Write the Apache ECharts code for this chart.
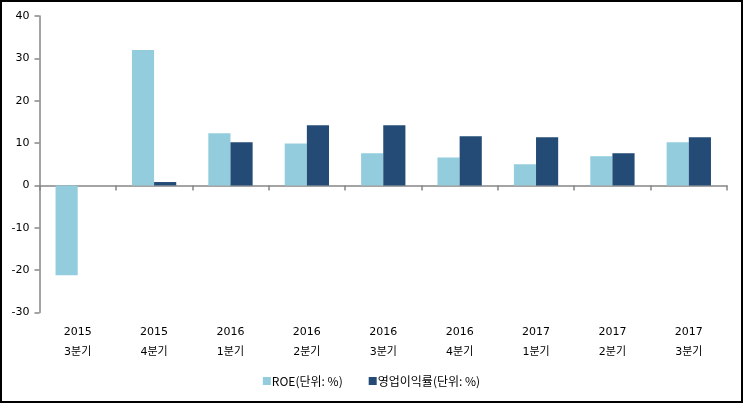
<!DOCTYPE html>
<html>
<head>
<meta charset="utf-8">
<script src="https://cdn.jsdelivr.net/npm/echarts@6/dist/echarts.min.js"></script>
<style>
html,body{margin:0;padding:0;background:#fff;}
#frame{width:743px;height:403px;box-sizing:border-box;border:2px solid #000;position:relative;}
#chart{position:absolute;left:-2px;top:-2px;width:743px;height:403px;}
</style>
</head>
<body>
<div id="frame"><div id="chart"></div></div>
<script>
const years = ['2015','2015','2016','2016','2016','2016','2017','2017','2017'];
const quarters = ['3분기','4분기','1분기','2분기','3분기','4분기','1분기','2분기','3분기'];
const roe = [-21.2, 32.0, 12.3, 9.9, 7.6, 6.6, 5.0, 6.9, 10.2];
const opMargin = [0, 0.8, 10.2, 14.2, 14.2, 11.6, 11.4, 7.6, 11.4];
const seriesNames = ['ROE(단위: %)', '영업이익률(단위: %)'];
const yTicks = {min: -30, max: 40, interval: 10};

const categories = years.map((y, i) => y + '\n' + quarters[i]);
const font = '"DejaVu Sans", "Noto Sans CJK KR", sans-serif';

const chart = echarts.init(document.getElementById('chart'), null, {renderer: 'canvas'});
chart.setOption({
  animation: false,
  textStyle: {fontFamily: font},
  grid: {left: 39.5, right: 16, top: 16, bottom: 90.5, containLabel: false},
  legend: {
    bottom: 11,
    left: 'center',
    itemWidth: 8, itemHeight: 8, itemGap: 26,
    icon: 'rect',
    textStyle: {fontSize: 12, color: '#000', fontFamily: '"Noto Sans CJK KR", sans-serif', padding: [0,0,0,-4]},
    data: seriesNames
  },
  xAxis: [
    {
      type: 'category', data: categories,
      axisLine: {onZero: true, lineStyle: {color: '#868686', width: 1.5}},
      axisTick: {show: true, length: 5, inside: false, lineStyle: {color: '#868686', width: 1.5}},
      axisLabel: {show: false}
    },
    {
      type: 'category', data: categories, position: 'bottom',
      axisLine: {show: false, onZero: false},
      axisTick: {show: false},
      axisLabel: {show: true, fontSize: 11, color: '#000', lineHeight: 20, margin: 10, fontFamily: font}
    }
  ],
  yAxis: {
    type: 'value', min: yTicks.min, max: yTicks.max, interval: yTicks.interval,
    axisLine: {show: true, lineStyle: {color: '#868686', width: 1.5}},
    axisTick: {show: true, length: 5, lineStyle: {color: '#868686', width: 1.5}},
    splitLine: {show: false},
    axisLabel: {fontSize: 11, color: '#000', margin: 10, fontFamily: font}
  },
  series: [
    {name: seriesNames[0], type: 'bar', data: roe, xAxisIndex: 0,
     itemStyle: {color: '#93CDDD'}, barGap: '0%', barCategoryGap: '42%'},
    {name: seriesNames[1], type: 'bar', data: opMargin, xAxisIndex: 0,
     itemStyle: {color: '#234B76'}, barGap: '0%', barCategoryGap: '42%'}
  ]
});
</script>
</body>
</html>
